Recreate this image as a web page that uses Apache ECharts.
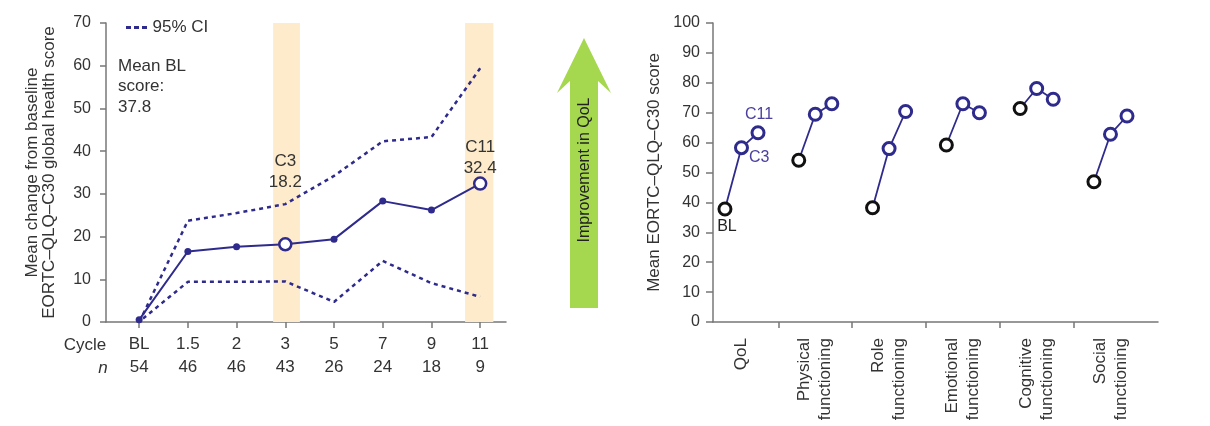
<!DOCTYPE html>
<html>
<head>
<meta charset="utf-8">
<script src="https://cdn.jsdelivr.net/npm/echarts@6/dist/echarts.min.js"></script>
<style>
  html, body { margin: 0; padding: 0; background: #fff; }
  #chart { width: 1210px; height: 426px; }
</style>
</head>
<body>
<div id="chart"></div>
<script>
// Left panel: mean change from baseline in global health score by cycle
const cycles = ['BL', '1.5', '2', '3', '5', '7', '9', '11'];
const nPatients = [54, 46, 46, 43, 26, 24, 18, 9];
const meanChange = [0.5, 16.5, 17.6, 18.2, 19.4, 28.3, 26.2, 32.4];
const ciUpper = [1.8, 23.7, 25.5, 27.6, 34.2, 42.3, 43.3, 59.4];
const ciLower = [0.8, 9.4, 9.4, 9.5, 4.7, 14.3, 9.1, 5.9];

// Right panel: mean EORTC-QLQ-C30 scores at BL, C3 and C11 per domain
const domains = ['QoL', 'Physical\nfunctioning', 'Role\nfunctioning', 'Emotional\nfunctioning', 'Cognitive\nfunctioning', 'Social\nfunctioning'];
const blScores = [37.8, 54.1, 38.2, 59.2, 71.4, 46.9];
const c3Scores = [58.3, 69.5, 58.0, 73.0, 78.1, 62.8];
const c11Scores = [63.3, 73.0, 70.4, 70.0, 74.5, 68.9];

const NAVY = '#2f2b8c';
const LABEL_PURPLE = '#4b40a0';
const AXIS = '#777';
const TEXT = '#333';
const FONT = '"Liberation Sans", Arial, sans-serif';

const chart = echarts.init(document.getElementById('chart'), null, { renderer: 'canvas' });

// mean series: highlighted cycles C3 and C11 drawn as open circles with labels
const highlight = { 3: { name: 'C3', dist: 44 }, 7: { name: 'C11', dist: -2 } };
const meanData = meanChange.map((v, i) => {
  const h = highlight[i];
  if (!h) return { value: [i, v] };
  return {
    value: [i, v],
    symbolSize: 12,
    itemStyle: { color: '#fff', borderColor: NAVY, borderWidth: 2.5 },
    label: {
      show: true, position: 'top', distance: h.dist,
      formatter: h.name + '\n' + v.toFixed(1),
      fontSize: 17, lineHeight: 21, color: TEXT, fontFamily: FONT
    }
  };
});

// right panel points: three per domain, offset around the category centre
const OFF = 0.224;
const rightData = [];
domains.forEach((d, i) => {
  const bl = { value: [i - OFF, blScores[i]], itemStyle: { borderColor: '#111' } };
  const c3 = { value: [i, c3Scores[i]] };
  const c11 = { value: [i + OFF, c11Scores[i]] };
  if (i === 0) {
    bl.label = { show: true, position: 'bottom', distance: 2, offset: [2, 0], formatter: 'BL', color: '#222' };
    c3.label = { show: true, position: 'right', distance: 0, offset: [0, 10], formatter: 'C3', color: LABEL_PURPLE };
    c11.label = { show: true, position: 'top', distance: 3, offset: [1, 0], formatter: 'C11', color: LABEL_PURPLE };
  }
  rightData.push(bl, c3, c11);
  if (i < domains.length - 1) rightData.push('-');
});

const option = {
  animation: false,
  textStyle: { fontFamily: FONT },
  legend: {
    left: 121, top: 14,
    itemWidth: 22, itemHeight: 3, itemGap: 6,
    data: [{ name: '95% CI', icon: 'path://M0,0h5v3h-5zM8,0h5v3h-5zM16,0h5v3h-5z' }],
    textStyle: { fontSize: 17, color: TEXT, fontFamily: FONT },
    selectedMode: false
  },
  grid: [
    { left: 106, top: 23, width: 400, bottom: 104 },
    { left: 713, top: 23, right: 52, bottom: 104 }
  ],
  xAxis: [
    {
      gridIndex: 0, type: 'value', min: -0.68, max: 7.53,
      splitLine: { show: false },
      axisLine: { onZero: false, lineStyle: { color: AXIS, width: 1.5 } },
      axisTick: { show: true, customValues: cycles.map((c, i) => i), length: 6, lineStyle: { color: AXIS, width: 1.5 } },
      axisLabel: {
        customValues: cycles.map((c, i) => i), margin: 11,
        formatter: v => '{a|' + cycles[v] + '}\n{b|' + nPatients[v] + '}',
        rich: {
          a: { fontSize: 17, lineHeight: 23, color: TEXT, fontFamily: FONT },
          b: { fontSize: 17, lineHeight: 23, color: TEXT, fontFamily: FONT }
        }
      }
    },
    {
      gridIndex: 1, type: 'value', min: -0.386, max: 5.644,
      splitLine: { show: false },
      axisLine: { onZero: false, lineStyle: { color: AXIS, width: 1.5 } },
      axisTick: { show: true, customValues: [0.5, 1.5, 2.5, 3.5, 4.5], length: 6, lineStyle: { color: AXIS, width: 1.5 } },
      axisLabel: {
        customValues: domains.map((d, i) => i), rotate: 90, margin: 16,
        formatter: v => domains[v],
        fontSize: 17, lineHeight: 21, color: TEXT, fontFamily: FONT
      }
    }
  ],
  yAxis: [
    {
      gridIndex: 0, type: 'value', min: 0, max: 70, interval: 10,
      name: 'Mean change from baseline\nEORTC\u2013QLQ\u2013C30 global health score',
      nameLocation: 'middle', nameGap: 48, nameRotate: 90,
      nameTextStyle: { fontSize: 17, lineHeight: 17, color: TEXT, fontFamily: FONT },
      splitLine: { show: false },
      axisLine: { show: true, onZero: false, lineStyle: { color: AXIS, width: 1.5 } },
      axisTick: { show: true, length: 6, lineStyle: { color: AXIS, width: 1.5 } },
      axisLabel: { fontSize: 16, margin: 15, color: TEXT, fontFamily: FONT }
    },
    {
      gridIndex: 1, type: 'value', min: 0, max: 100, interval: 10,
      name: 'Mean EORTC\u2013QLQ\u2013C30 score',
      nameLocation: 'middle', nameGap: 50, nameRotate: 90,
      nameTextStyle: { fontSize: 17, color: TEXT, fontFamily: FONT },
      splitLine: { show: false },
      axisLine: { show: true, onZero: false, lineStyle: { color: AXIS, width: 1.5 } },
      axisTick: { show: true, length: 7, lineStyle: { color: AXIS, width: 1.5 } },
      axisLabel: { fontSize: 16, margin: 13, color: TEXT, fontFamily: FONT }
    }
  ],
  series: [
    {
      // shaded cycles of interest
      name: 'bands', type: 'line', xAxisIndex: 0, yAxisIndex: 0, data: [], z: 1,
      markArea: {
        silent: true,
        itemStyle: { color: '#fdebcb' },
        data: [
          [{ xAxis: 2.75, yAxis: 0 }, { xAxis: 3.30, yAxis: 70.5 }],
          [{ xAxis: 6.69, yAxis: 0 }, { xAxis: 7.27, yAxis: 71.2 }]
        ]
      }
    },
    {
      name: '95% CI', type: 'line', xAxisIndex: 0, yAxisIndex: 0, z: 2,
      data: ciUpper.map((v, i) => [i === 0 ? 0.08 : i, v]),
      showSymbol: false, symbol: 'none',
      itemStyle: { color: NAVY },
      lineStyle: { color: NAVY, width: 2.5, type: [4, 4] }
    },
    {
      name: '95% CI', type: 'line', xAxisIndex: 0, yAxisIndex: 0, z: 2,
      data: ciLower.map((v, i) => [i === 0 ? 0.08 : i, v]),
      showSymbol: false, symbol: 'none',
      itemStyle: { color: NAVY },
      lineStyle: { color: NAVY, width: 2.5, type: [4, 4] }
    },
    {
      name: 'Mean change', type: 'line', xAxisIndex: 0, yAxisIndex: 0, z: 3,
      data: meanData,
      symbol: 'circle', symbolSize: 7,
      itemStyle: { color: NAVY },
      lineStyle: { color: NAVY, width: 2 }
    },
    {
      name: 'Domain scores', type: 'line', xAxisIndex: 1, yAxisIndex: 1, z: 3,
      data: rightData, connectNulls: false,
      symbol: 'circle', symbolSize: 12,
      itemStyle: { color: '#fff', borderColor: NAVY, borderWidth: 3 },
      lineStyle: { color: NAVY, width: 1.8 },
      label: { fontSize: 16, fontFamily: FONT }
    }
  ],
  graphic: [
    {
      type: 'text', left: 118, top: 56,
      style: { text: 'Mean BL\nscore:\n37.8', fontSize: 17, lineHeight: 20.5, fill: TEXT, fontFamily: FONT }
    },
    {
      type: 'text', x: 85, y: 345,
      style: { text: 'Cycle', fontSize: 17, fill: TEXT, fontFamily: FONT, align: 'center', verticalAlign: 'middle' }
    },
    {
      type: 'text', x: 103, y: 368,
      style: { text: 'n', fontSize: 17, fontStyle: 'italic', fill: TEXT, fontFamily: FONT, align: 'center', verticalAlign: 'middle' }
    },
    {
      // arrow indicating direction of improvement
      type: 'polygon', z: 0,
      shape: { points: [[584, 38], [611, 93], [598, 81], [598, 308], [570, 308], [570, 81], [557, 93]] },
      style: { fill: '#a6d84f' }
    },
    {
      type: 'text', x: 585, y: 170, rotation: Math.PI / 2, z: 1,
      style: { text: 'Improvement in QoL', fontSize: 16, fill: '#222', fontFamily: FONT, align: 'center', verticalAlign: 'middle' }
    }
  ]
};

chart.setOption(option);
</script>
</body>
</html>
